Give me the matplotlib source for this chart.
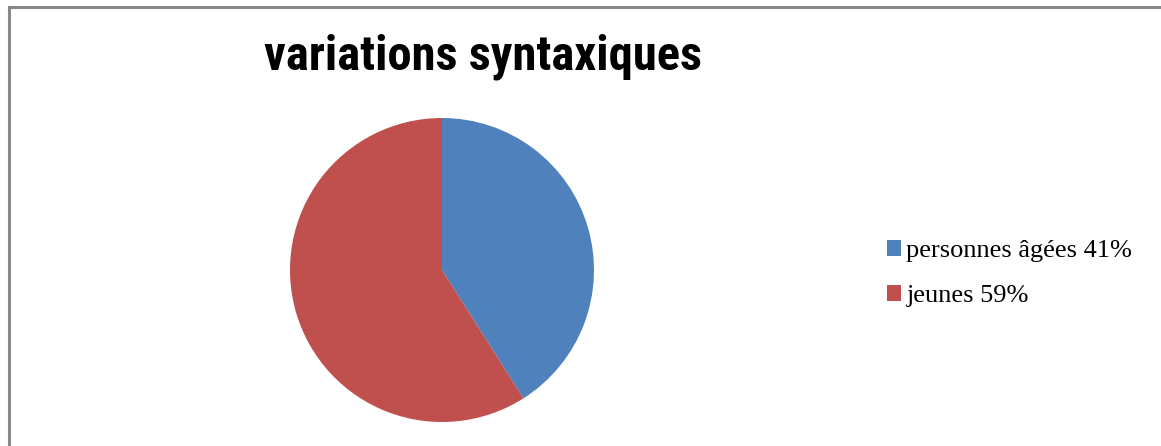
import matplotlib.pyplot as plt
from matplotlib.lines import Line2D
from matplotlib import font_manager

# Pie data
labels = ["personnes âgées 41%", "jeunes 59%"]
values = [41, 59]
colors = ["#4F81BD", "#C0504D"]
title = "variations syntaxiques"

# pick a narrow bold face for the title if one is installed
installed = {f.name for f in font_manager.fontManager.ttflist}
narrow = [n for n in ["Liberation Sans Narrow", "DejaVu Sans Condensed", "Roboto Condensed",
                      "Open Sans Condensed", "Noto Sans Display"] if n in installed]
title_family = narrow[0] if narrow else "Liberation Sans"

W, H = 1161, 446
fig = plt.figure(figsize=(W / 100, H / 100), dpi=100)

# Grey frame at top and left
fig.add_artist(Line2D([8.5 / W, 8.5 / W], [0, 1 - 6.5 / H], transform=fig.transFigure,
                      color="#888888", lw=2.2))
fig.add_artist(Line2D([8.5 / W, 1], [1 - 6.5 / H, 1 - 6.5 / H], transform=fig.transFigure,
                      color="#888888", lw=2.2))

# Pie centred at (442, 270) px with radius 152 px
cx, cy, r = 442, 270, 152
ax = fig.add_axes([(cx - r) / W, (H - cy - r) / H, 2 * r / W, 2 * r / H])
wedges, _ = ax.pie(values, colors=colors, startangle=90, counterclock=False,
                   wedgeprops=dict(linewidth=0))
ax.set_xlim(-1, 1)
ax.set_ylim(-1, 1)
ax.set_aspect("equal")

fig.text(483 / W, 1 - 70 / H, title, ha="center", va="baseline",
         fontsize=35, fontweight="bold", family=[title_family, "DejaVu Sans"])

leg = fig.legend(wedges, labels, loc="upper left", bbox_to_anchor=(887 / W, 1 - 240 / H),
                 frameon=False, prop={"family": "Liberation Serif", "size": 19},
                 handlelength=0.53, handleheight=0.53, handletextpad=0.2,
                 labelspacing=0.88, borderpad=0, borderaxespad=0)

fig.savefig("out.png", dpi=100)
